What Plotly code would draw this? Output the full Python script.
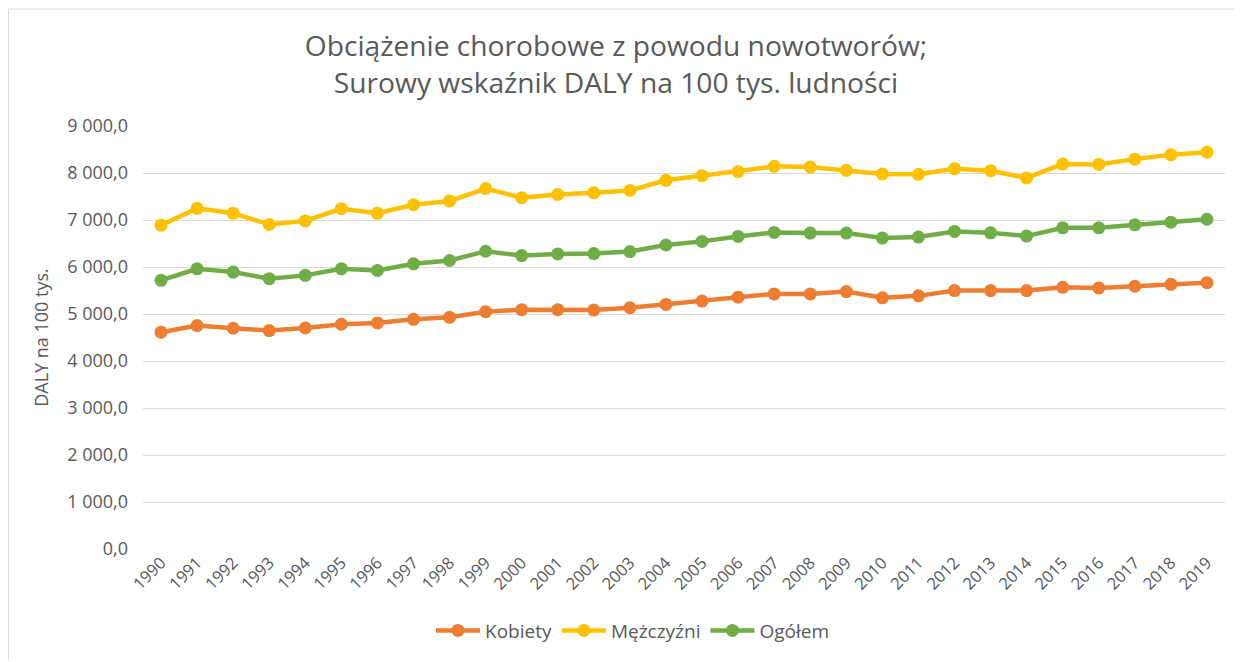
import plotly.graph_objects as go

years = list(range(1990, 2020))
kobiety = [4613, 4753, 4697, 4648, 4704, 4782, 4810, 4887, 4929, 5049,
           5091, 5091, 5084, 5133, 5203, 5274, 5358, 5428, 5428, 5477,
           5344, 5386, 5498, 5498, 5498, 5568, 5554, 5590, 5632, 5667]
mezczyzni = [6890, 7248, 7143, 6904, 6981, 7241, 7143, 7325, 7403, 7670,
             7473, 7543, 7578, 7628, 7845, 7944, 8028, 8141, 8126, 8056,
             7979, 7972, 8091, 8049, 7895, 8190, 8183, 8295, 8386, 8443]
ogolem = [5716, 5962, 5892, 5751, 5822, 5962, 5927, 6068, 6138, 6335,
          6243, 6278, 6285, 6328, 6468, 6545, 6651, 6735, 6721, 6721,
          6616, 6637, 6756, 6728, 6658, 6833, 6833, 6897, 6953, 7016]
y_ticks = [0, 1000, 2000, 3000, 4000, 5000, 6000, 7000, 8000, 9000]

FONT = "Open Sans"
TXT = "#595959"

fig = go.Figure()
for name, vals, col in [("Kobiety", kobiety, "#ED7D31"),
                        ("Mężczyźni", mezczyzni, "#FFC000"),
                        ("Ogółem", ogolem, "#70AD47")]:
    fig.add_trace(go.Scatter(
        x=years, y=vals, name=name, mode="lines+markers",
        line=dict(color=col, width=4.5),
        marker=dict(color=col, size=13, symbol="circle"),
    ))

# page body has an 8px margin, so the figure is offset by 8px
W, H = 1235, 654
L, R, T, B = 135, 18, 118, 111
pw, ph = W - L - R, H - T - B

fig.update_layout(
    width=W, height=H,
    margin=dict(l=L, r=R, t=T, b=B),
    paper_bgcolor="white", plot_bgcolor="white",
    separators=", ",
    font=dict(family=FONT, color=TXT, size=16),
    title=dict(
        text="Obciążenie chorobowe z powodu nowotworów;<br>Surowy wskaźnik DALY na 100 tys. ludności",
        x=608 / W, xanchor="center", y=1 - 48 / H, yanchor="middle",
        font=dict(family=FONT, size=28.2, color=TXT),
    ),
    xaxis=dict(
        range=[1989.5, 2019.5], tickmode="array", tickvals=years,
        ticktext=[str(y) for y in years], tickangle=-45,
        showgrid=False, showline=False, zeroline=False, ticks="",
        tickfont=dict(family=FONT, size=16.5, color=TXT),
    ),
    yaxis=dict(
        range=[0, 9000], tickmode="array", tickvals=y_ticks,
        tickformat=",.1f", showgrid=True, gridcolor="#D9D9D9", gridwidth=1,
        zeroline=False, showline=False, ticks="", ticklabelstandoff=14,
        tickfont=dict(family=FONT, size=18, color=TXT),
        title=dict(text="DALY na 100 tys.", font=dict(family=FONT, size=18, color=TXT), standoff=13),
    ),
    legend=dict(
        orientation="h", x=(625 - L) / pw, xanchor="center",
        y=(543 - 625) / ph, yanchor="middle",
        font=dict(family=FONT, size=19, color=TXT),
        itemwidth=44, traceorder="normal",
    ),
    showlegend=True,
    shapes=[
        dict(type="line", xref="paper", yref="paper",
             x0=(0.5 - L) / pw, x1=(0.5 - L) / pw, y0=(H - B - H) / ph, y1=(H - B - 0.5) / ph,
             line=dict(color="#D9D9D9", width=1)),
        dict(type="line", xref="paper", yref="paper",
             x0=(0.5 - L) / pw, x1=(W - L) / pw, y0=(H - B - 0.5) / ph, y1=(H - B - 0.5) / ph,
             line=dict(color="#D9D9D9", width=1)),
    ],
)

fig.write_html("out.html", config={"displayModeBar": False})
